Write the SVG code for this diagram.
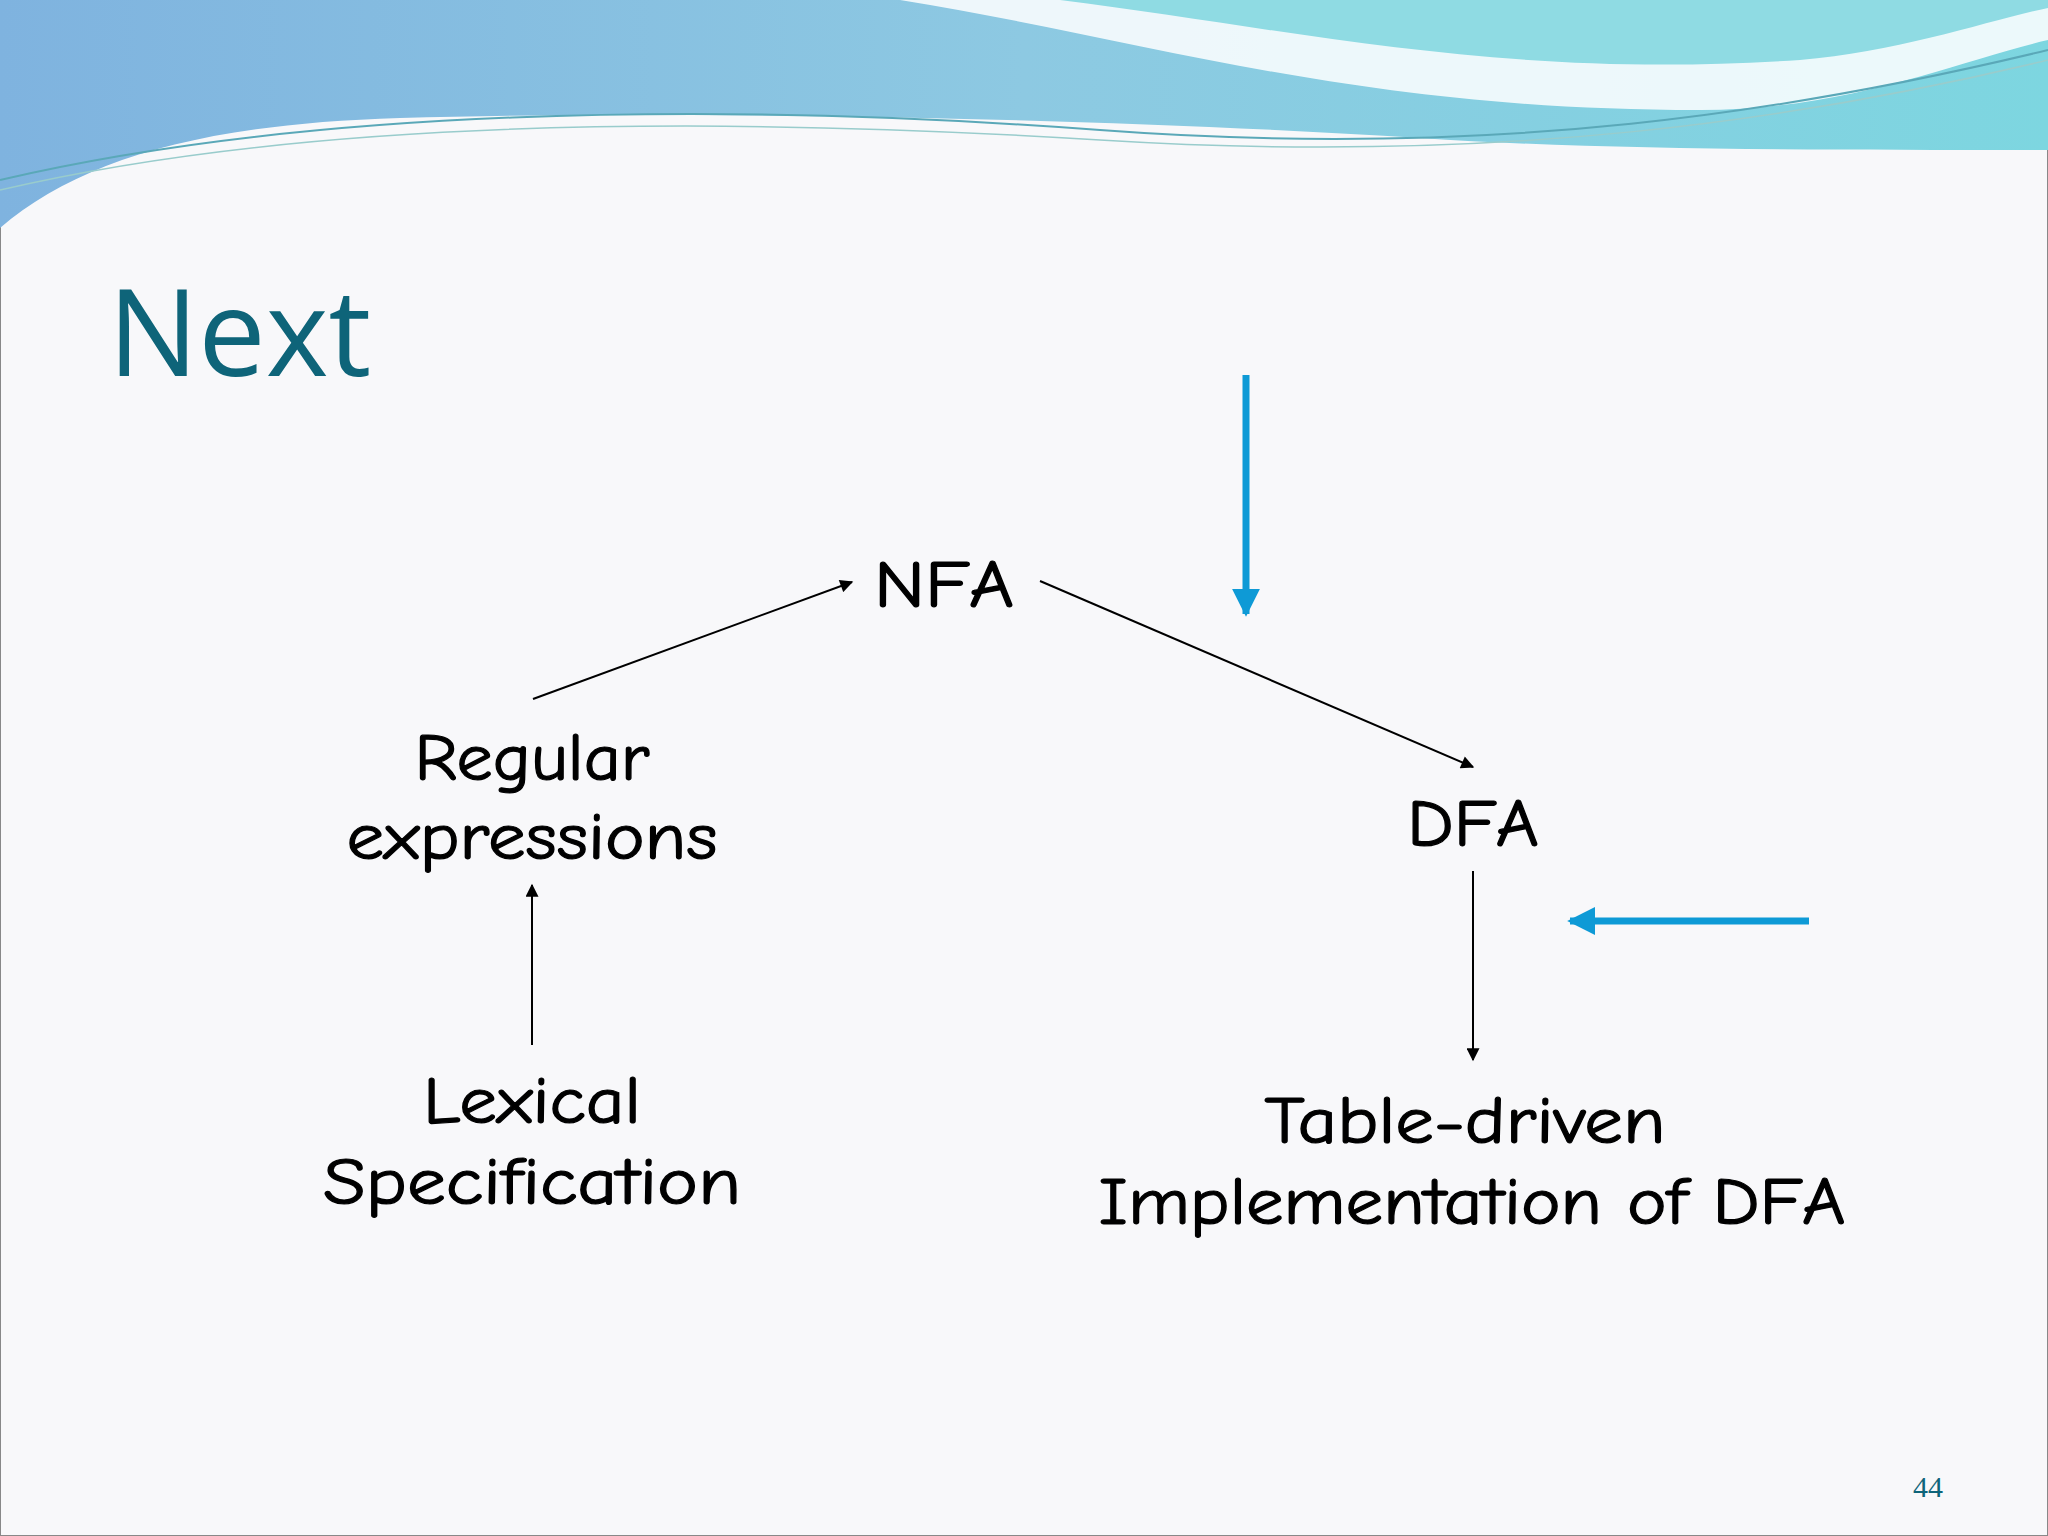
<svg xmlns="http://www.w3.org/2000/svg" width="2048" height="1536" viewBox="0 0 2048 1536">
<defs>
<linearGradient id="band" x1="0" y1="0" x2="1" y2="0">
<stop offset="0" stop-color="#7fb3df"/><stop offset="0.5" stop-color="#8dc9e2"/><stop offset="1" stop-color="#7dd6e0"/>
</linearGradient>
<marker id="ah" viewBox="0 0 10 10" refX="9" refY="5" markerWidth="16" markerHeight="13" markerUnits="userSpaceOnUse" orient="auto"><path d="M0,0 L10,5 L0,10 z" fill="#000"/></marker>
<marker id="bh" viewBox="0 0 10 10" refX="9" refY="5" markerWidth="4" markerHeight="4" orient="auto"><path d="M0,0 L10,5 L0,10 z" fill="#0e9ad6"/></marker>
<style>
.lbl{font-family:"Comic Neue","DejaVu Sans",sans-serif;font-size:66px;fill:#000;stroke:#000;stroke-width:1.2;text-anchor:middle}
.c{stroke:#000;stroke-width:2;fill:none;marker-end:url(#ah)}
.b{stroke:#0e9ad6;stroke-width:7;fill:none;marker-end:url(#bh)}
</style>
</defs>
<rect width="2048" height="1536" fill="#f8f8fa" stroke="#888" stroke-width="2"/>
<path d="M0,0 H2048 V150 C1800,150 1600,150 1420,138 C1100,118 700,110 400,118 C200,124 80,160 0,228 Z" fill="url(#band)"/>
<path d="M900,0 C1150,40 1350,110 1700,110 C1850,110 1960,60 2048,40 V0 Z" fill="#fff" opacity="0.85"/>
<path d="M1060,0 C1300,30 1500,80 1800,60 C1900,52 1990,20 2048,8 V0 Z" fill="#8fdbe3"/>
<path d="M0,180 C300,110 700,100 1100,130 C1500,160 1800,110 2048,50" stroke="#5aa8b8" stroke-width="2" fill="none"/>
<path d="M0,190 C300,120 700,115 1100,140 C1500,165 1800,120 2048,60" stroke="#9cc" stroke-width="1.5" fill="none"/>
<text x="108" y="376" font-family="'Open Sans','Liberation Sans',sans-serif" font-size="120" fill="#0e6479">Next</text>
<g id="connectors">
<line class="c" x1="533" y1="699" x2="852" y2="582"/>
<line class="c" x1="1040" y1="581" x2="1473" y2="767"/>
<line class="c" x1="532" y1="1045" x2="532" y2="885"/>
<line class="c" x1="1473" y1="871" x2="1473" y2="1060"/>
<line class="b" x1="1246" y1="375" x2="1246" y2="614"/>
<line class="b" x1="1809" y1="921" x2="1570" y2="921"/>
</g>
<g id="nfa"><text class="lbl" x="944" y="607" textLength="140" lengthAdjust="spacingAndGlyphs">NFA</text></g>
<g id="regex"><text class="lbl" x="532" y="780" textLength="235" lengthAdjust="spacingAndGlyphs">Regular</text><text class="lbl" x="532" y="859" textLength="371" lengthAdjust="spacingAndGlyphs">expressions</text></g>
<g id="dfa"><text class="lbl" x="1473" y="846" textLength="132" lengthAdjust="spacingAndGlyphs">DFA</text></g>
<g id="lexical"><text class="lbl" x="532" y="1123" textLength="218" lengthAdjust="spacingAndGlyphs">Lexical</text><text class="lbl" x="532" y="1204" textLength="418" lengthAdjust="spacingAndGlyphs">Specification</text></g>
<g id="table"><text class="lbl" x="1465" y="1143" textLength="401" lengthAdjust="spacingAndGlyphs">Table-driven</text><text class="lbl" x="1472" y="1224" textLength="747" lengthAdjust="spacingAndGlyphs">Implementation of DFA</text></g>
<text x="1928" y="1497" font-family="'Liberation Serif',serif" font-size="30" fill="#0e6479" text-anchor="middle">44</text>
</svg>
